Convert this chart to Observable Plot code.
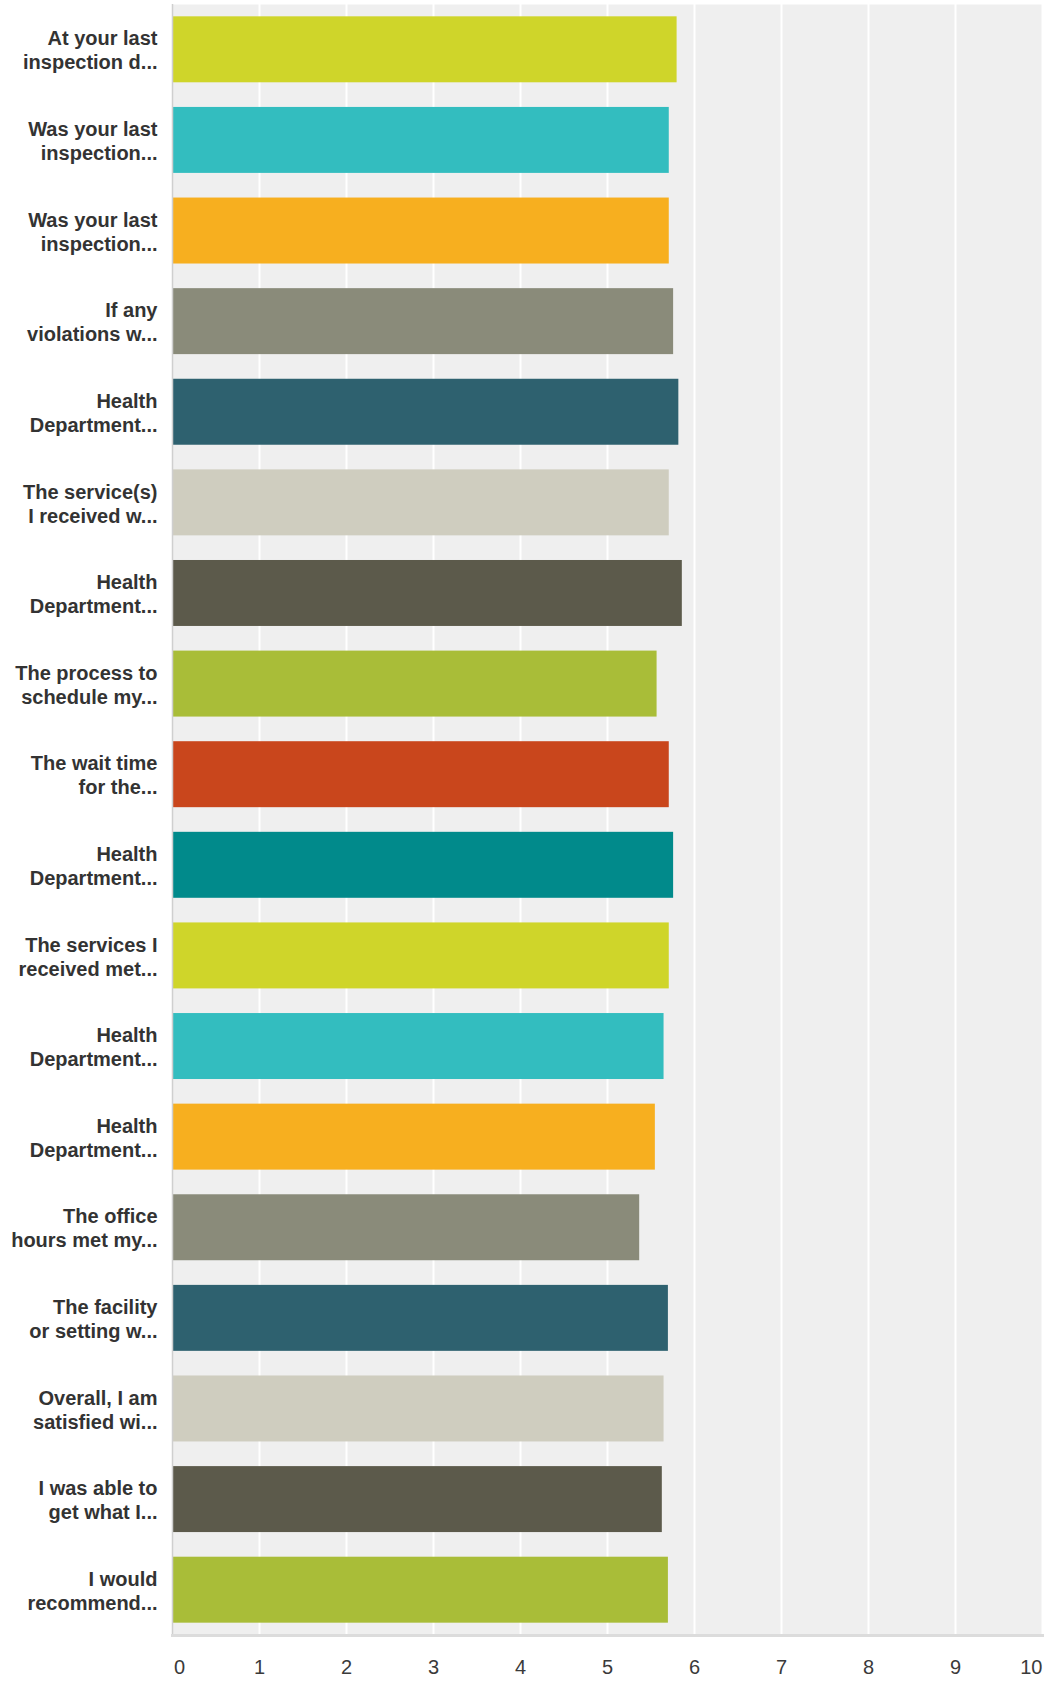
<!DOCTYPE html>
<html>
<head>
<meta charset="utf-8">
<script src="https://cdn.jsdelivr.net/npm/d3@7"></script>
<script src="https://cdn.jsdelivr.net/npm/@observablehq/plot@0.6"></script>
<style>
  html, body { margin: 0; padding: 0; background: #fff; }
  #chart svg { display: block; }
</style>
</head>
<body>
<div id="chart"></div>
<script>
// Category labels (two lines each, as shown)
const labelLine1 = [
  "At your last", "Was your last", "Was your last", "If any", "Health",
  "The service(s)", "Health", "The process to", "The wait time", "Health",
  "The services I", "Health", "Health", "The office", "The facility",
  "Overall, I am", "I was able to", "I would"
];
const labelLine2 = [
  "inspection d...", "inspection...", "inspection...", "violations w...", "Department...",
  "I received w...", "Department...", "schedule my...", "for the...", "Department...",
  "received met...", "Department...", "Department...", "hours met my...", "or setting w...",
  "satisfied wi...", "get what I...", "recommend..."
];
// Average scores
const values = [
  5.80, 5.71, 5.71, 5.76, 5.82, 5.71, 5.86, 5.57, 5.71,
  5.76, 5.71, 5.65, 5.55, 5.37, 5.70, 5.65, 5.63, 5.70
];
// Bar colours (palette cycles)
const palette = [
  "#cfd52a", "#33bdbf", "#f7af1f", "#8a8b7a", "#2e616f",
  "#cfcdbf", "#5c5a4b", "#a9bd38", "#c9461c", "#018a8b"
];
const xTicks = [0, 1, 2, 3, 4, 5, 6, 7, 8, 9, 10];

const idx = values.map((_, i) => i);
const font = "'Liberation Sans', Arial, Helvetica, sans-serif";

const chart = Plot.plot({
  width: 1047,
  height: 1682,
  marginLeft: 172,
  marginRight: 5,
  marginTop: 4,
  marginBottom: 47,
  style: { fontFamily: font, background: "#fff", overflow: "visible" },
  x: { domain: [0, 10], axis: null },
  y: { domain: idx, axis: null, paddingInner: 0.272, paddingOuter: 0.136, round: false },
  marks: [
    Plot.frame({ fill: "#efefef", stroke: null }),
    Plot.ruleX(xTicks.filter(d => d > 0), { stroke: "#ffffff", strokeWidth: 2 }),
    Plot.barX(idx, {
      x: i => values[i],
      y: i => i,
      fill: i => palette[i % palette.length]
    }),
    Plot.ruleX([0], { stroke: "#cfcfcf", strokeWidth: 1.5 }),
    Plot.frame({ anchor: "bottom", stroke: "#dcdcdc", strokeWidth: 3 }),
    // y labels
    Plot.text(idx, {
      y: i => i,
      text: i => labelLine1[i] + "\n" + labelLine2[i],
      frameAnchor: "left",
      dx: -15,
      textAnchor: "end",
      lineHeight: 1.2,
      fontSize: 20,
      fontWeight: "bold",
      fill: "#333"
    }),
    // x tick labels
    Plot.text(xTicks.filter(d => d > 0 && d < 10), {
      x: d => d, text: d => String(d), frameAnchor: "bottom", dy: 38,
      fontSize: 20, fill: "#3a3a3a", textAnchor: "middle"
    }),
    Plot.text(xTicks.filter(d => d === 0), {
      x: d => d, text: d => String(d), frameAnchor: "bottom", dy: 38, dx: 1.5,
      fontSize: 20, fill: "#3a3a3a", textAnchor: "start"
    }),
    Plot.text(xTicks.filter(d => d === 10), {
      x: d => d, text: d => String(d), frameAnchor: "bottom", dy: 38,
      fontSize: 20, fill: "#3a3a3a", textAnchor: "end"
    })
  ]
});
document.getElementById("chart").appendChild(chart);
</script>
</body>
</html>
